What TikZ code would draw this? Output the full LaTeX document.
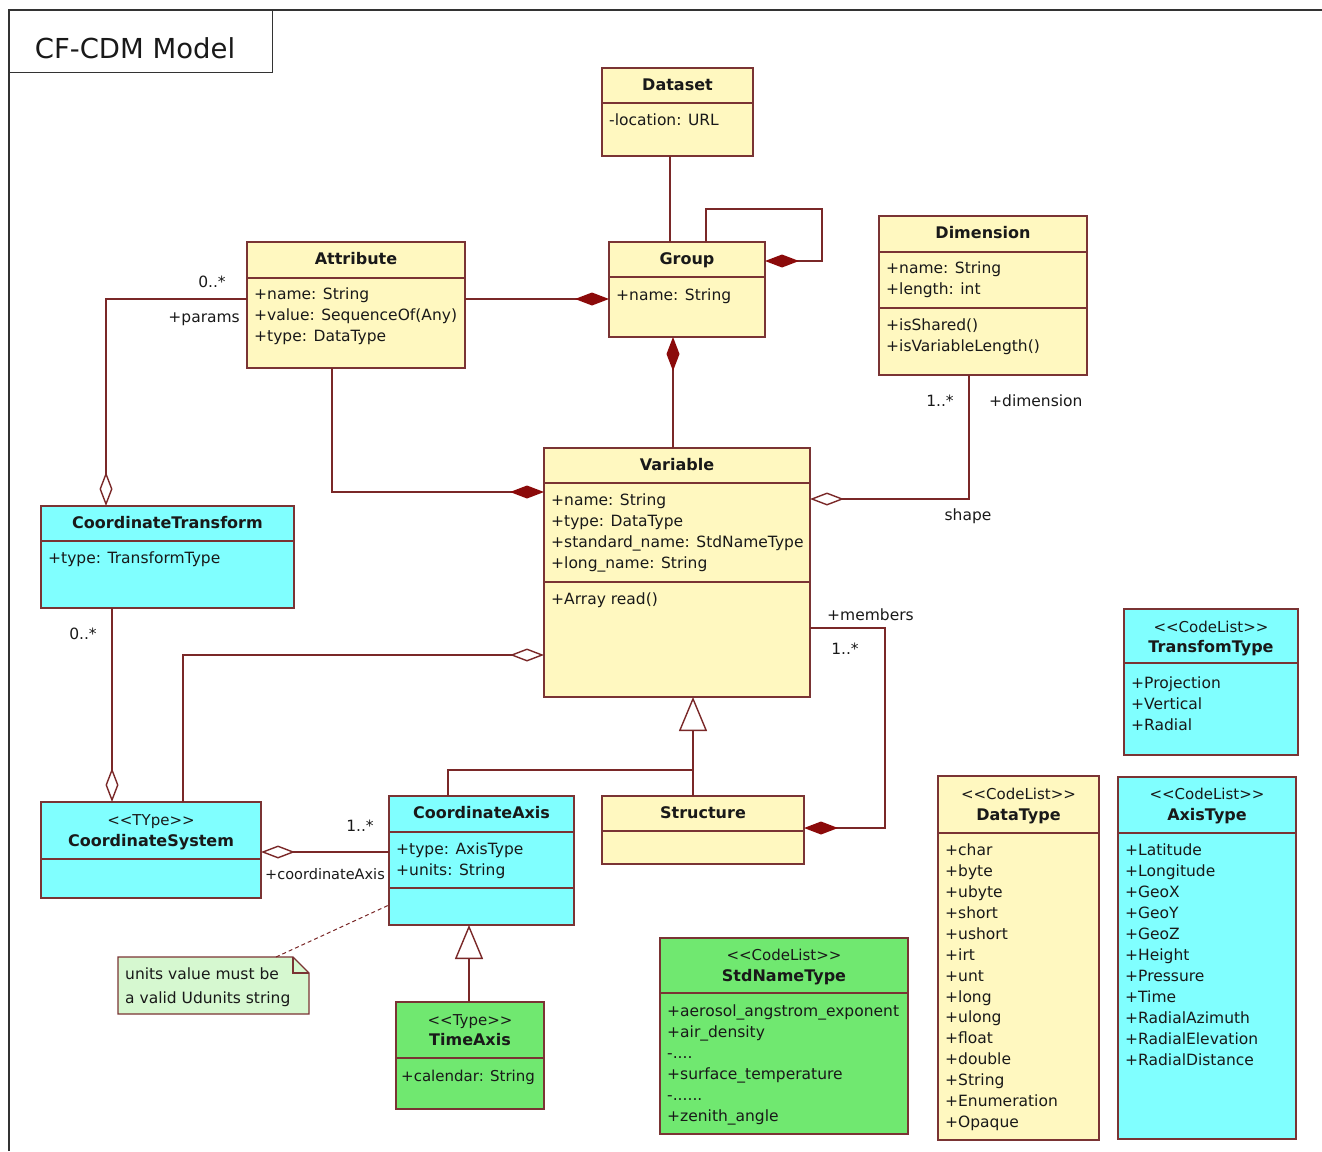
\documentclass[tikz,border=0pt]{standalone}
\usepackage{fontspec}
\setmainfont{DejaVu Sans}
\usetikzlibrary{arrows.meta,calc}
\definecolor{clsY}{RGB}{255,248,192}
\definecolor{clsC}{RGB}{128,255,255}
\definecolor{clsG}{RGB}{112,232,112}
\definecolor{noteG}{RGB}{214,248,208}
\definecolor{bord}{RGB}{122,52,52}
\definecolor{connc}{RGB}{122,40,40}
\definecolor{dia}{RGB}{139,10,10}
\definecolor{txt}{RGB}{25,25,25}
\newcommand\umlcls[6]{\node[cls, fill=#6, minimum width={(#4-#2)*1pt}, minimum height={(#5-#3)*1pt}] (#1) at ({(#2+#4)/2},{(#3+#5)/2}) {};}
\newcommand\umlsep[2]{\draw[sepl] (#1.west |- 0,#2) -- (#1.east |- 0,#2);}
\newcommand\umltitle[3]{\node[ttl] (#1-title) at (#1.north |- 0,#3) {#2};}
\newcommand\umlster[3]{\node[ster] (#1-ster) at (#1.north |- 0,#3) {#2};}
\newcommand\umllines[5]{\foreach \itm [count=\i] in {#4} {\node[attr] (#1-\i) at (#2,{#3+#5*(\i-1)}) {\itm};}}
\begin{document}
\begin{tikzpicture}[x=1pt,y=-1pt,
  cls/.style={draw=bord, line width=1.4pt, inner sep=0pt, outer sep=0pt, rectangle},
  sepl/.style={draw=bord, line width=1.4pt},
  ttl/.style={font=\bfseries\fontsize{16}{19}\selectfont, text=txt, inner sep=0pt, text height=11pt, text depth=3pt, yshift=-1.5pt},
  ster/.style={font=\fontsize{15}{18}\selectfont, text=txt, inner sep=0pt, text height=11pt, text depth=3pt, yshift=-1.5pt},
  attr/.style={anchor=west, font=\fontsize{15.5}{18}\selectfont, text=txt, inner sep=0pt, text height=11pt, text depth=3pt, yshift=-1.5pt},
  lbl/.style={font=\fontsize{15.5}{18}\selectfont, text=txt, inner sep=0pt, text height=11pt, text depth=3pt, yshift=-1.5pt},
  conn/.style={draw=connc, line width=1.4pt},
  comp/.style={conn, -{Diamond[length=34pt, width=13pt, color=dia, fill=dia]}},
  aggr/.style={conn, -{Diamond[length=34pt, width=13pt, fill=white]}},
  gen/.style={conn, -{Triangle[length=34pt, width=28pt, fill=white]}},
  notel/.style={draw=connc, line width=1pt, dash pattern=on 4pt off 3pt}
]
\useasboundingbox (0,0) rectangle (1322,1151);
% frame and title
\draw[black!80, line width=2pt] (9,1151) -- (9,10) -- (1322,10);
\node[draw=black!80, line width=1pt, minimum width=263pt, minimum height=62pt, inner sep=0pt] (title) at (140.5,41) {};
\node[font=\fontsize{27.5}{30}\selectfont, text=txt, inner sep=0pt] (titletext) at (135,48) {CF-CDM Model};

% Dataset
\umlcls{ds}{602}{68}{753}{156}{clsY}
\umlsep{ds}{103}
\umltitle{ds}{Dataset}{85}
\umllines{ds}{609}{120}{-location: URL}{21}

% Group
\umlcls{grp}{609}{242}{765}{337}{clsY}
\umlsep{grp}{277}
\umltitle{grp}{Group}{259}
\umllines{grp}{616}{295}{+name: String}{21}

% Dimension
\umlcls{dim}{879}{216}{1087}{375}{clsY}
\umlsep{dim}{252}
\umlsep{dim}{308}
\umltitle{dim}{Dimension}{233}
\umllines{dima}{886}{268}{+name: String,+length: int}{21}
\umllines{dimo}{886}{325}{+isShared(),+isVariableLength()}{21}

% Attribute
\umlcls{attr}{247}{242}{465}{368}{clsY}
\umlsep{attr}{278}
\umltitle{attr}{Attribute}{259}
\umllines{attr}{254}{294}{+name: String,+value: SequenceOf(Any),+type: DataType}{21}

% Variable
\umlcls{var}{544}{448}{810}{697}{clsY}
\umlsep{var}{483}
\umlsep{var}{582}
\umltitle{var}{Variable}{465}
\umllines{vara}{551}{500}{+name: String,+type: DataType,+standard\_name: StdNameType,+long\_name: String}{21}
\umllines{varo}{551}{599}{+Array read()}{21}

% CoordinateTransform
\umlcls{ct}{41}{506}{294}{608}{clsC}
\umlsep{ct}{541}
\umltitle{ct}{CoordinateTransform}{523}
\umllines{ct}{48}{558}{+type: TransformType}{21}

% CoordinateSystem
\umlcls{cs}{41}{802}{261}{898}{clsC}
\umlsep{cs}{859}
\umlster{cs}{<{}<TYpe>{}>}{820}
\umltitle{cs}{CoordinateSystem}{841}

% CoordinateAxis
\umlcls{ca}{389}{796}{574}{925}{clsC}
\umlsep{ca}{832}
\umlsep{ca}{888}
\umltitle{ca}{CoordinateAxis}{813}
\umllines{ca}{396}{849}{+type: AxisType,+units: String}{21}

% Structure
\umlcls{st}{602}{796}{804}{864}{clsY}
\umlsep{st}{831}
\umltitle{st}{Structure}{813}

% TimeAxis
\umlcls{ta}{396}{1002}{544}{1109}{clsG}
\umlsep{ta}{1058}
\umlster{ta}{<{}<Type>{}>}{1020}
\umltitle{ta}{TimeAxis}{1040}
\node[attr, font=\fontsize{15}{18}\selectfont] (ta-1) at (401,1076) {+calendar: String};

% Note
\node[minimum width=191pt, minimum height=57pt, inner sep=0pt, outer sep=0pt] (note) at (213.5,985.5) {};
\draw[draw=bord, line width=1.2pt, fill=noteG] (note.south west) -- (note.north west) -- ([xshift=-16pt]note.north east) -- ([yshift=-16pt]note.north east) -- (note.south east) -- cycle;
\draw[draw=bord, line width=1.2pt] ([xshift=-16pt]note.north east) -- ([xshift=-16pt,yshift=-16pt]note.north east) -- ([yshift=-16pt]note.north east);
\umllines{note}{125}{974}{units value must be,a valid Udunits string}{24}

% StdNameType
\umlcls{snt}{660}{938}{908}{1134}{clsG}
\umlsep{snt}{993}
\umlster{snt}{<{}<CodeList>{}>}{955}
\umltitle{snt}{StdNameType}{976}
\umllines{snt}{667}{1011}{+aerosol\_angstrom\_exponent,+air\_density,-.{}.{}.{}.,+surface\_temperature,-.{}.{}.{}.{}.{}.,+zenith\_angle}{21}

% DataType
\umlcls{dt}{938}{776}{1099}{1140}{clsY}
\umlsep{dt}{833}
\umlster{dt}{<{}<CodeList>{}>}{794}
\umltitle{dt}{DataType}{815}
\umllines{dt}{945}{850}{+char,+byte,+ubyte,+short,+ushort,+irt,+unt,+long,+ulong,+float,+double,+String,+Enumeration,+Opaque}{20.93}

% TransfomType
\umlcls{tt}{1124}{609}{1298}{755}{clsC}
\umlsep{tt}{663}
\umlster{tt}{<{}<CodeList>{}>}{627}
\umltitle{tt}{TransfomType}{647}
\umllines{tt}{1131}{683}{+Projection,+Vertical,+Radial}{21}

% AxisType
\umlcls{at}{1118}{777}{1296}{1139}{clsC}
\umlsep{at}{833}
\umlster{at}{<{}<CodeList>{}>}{794}
\umltitle{at}{AxisType}{815}
\umllines{at}{1125}{850}{+Latitude,+Longitude,+GeoX,+GeoY,+GeoZ,+Height,+Pressure,+Time,+RadialAzimuth,+RadialElevation,+RadialDistance}{21}

% Connectors
\draw[conn] (ds.south -| 670,0) -- (grp.north -| 670,0);
\draw[comp] (grp.north -| 706,0) |- (822,209) |- (grp.east |- 0,261);
\draw[comp] (attr.east |- 0,299) -- (grp.west |- 0,299);
\draw[comp] (var.north -| 673,0) -- (grp.south -| 673,0);
\draw[comp] (attr.south -| 332,0) |- (var.west |- 0,492);
\draw[aggr] (dim.south -| 969,0) |- (var.east |- 0,499);
\draw[aggr] (attr.west |- 0,299) -| (ct.north -| 106,0);
\draw[aggr] (ct.south -| 112,0) -- (cs.north -| 112,0);
\draw[aggr] (cs.north -| 183,0) |- (var.west |- 0,655);
\draw[aggr] (ca.west |- 0,852) -- (cs.east |- 0,852);
\coordinate (gj) at (693,770);
\draw[gen] (gj) -- (var.south -| 693,0);
\draw[conn] (ca.north -| 448,0) |- (gj);
\draw[conn] (st.north -| 693,0) -- (gj);
\draw[comp] (var.east |- 0,628) -| (885,828) -- (st.east |- 0,828);
\draw[gen] (ta.north -| 469,0) -- (ca.south -| 469,0);
\draw[notel] (note.north -| 276,0) -- (ca.west |- 0,905);

% Labels
\node[lbl] (l1) at (212,282) {0..*};
\node[lbl, anchor=east] (l2) at (240,317) {+params};
\node[lbl] (l3) at (940,401) {1..*};
\node[lbl, anchor=west] (l4) at (989,401) {+dimension};
\node[lbl] (l5) at (968,515) {shape};
\node[lbl, anchor=west] (l6) at (827,615) {+members};
\node[lbl] (l7) at (845,649) {1..*};
\node[lbl] (l8) at (83,634) {0..*};
\node[lbl] (l9) at (360,826) {1..*};
\node[lbl, font=\fontsize{14.5}{17}\selectfont] (l10) at (325,874) {+coordinateAxis};
\end{tikzpicture}
\end{document}
